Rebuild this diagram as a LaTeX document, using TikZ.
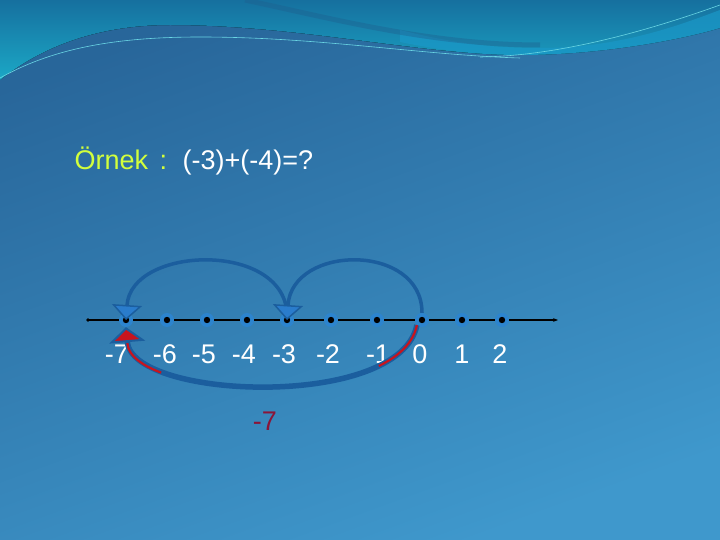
\documentclass[tikz,border=0pt]{standalone}
\usepackage{fontspec}
\setmainfont{Liberation Sans}
\usetikzlibrary{arrows.meta}
\definecolor{bgtop}{HTML}{28669A}
\definecolor{bgbot}{HTML}{3F98CC}
\definecolor{wavetop}{HTML}{16709F}
\definecolor{wavelow}{HTML}{1BA8C6}
\definecolor{waveband}{HTML}{1A98C8}
\definecolor{wavedark}{HTML}{1E5F8E}
\definecolor{waveline}{HTML}{6AD6E4}
\definecolor{ringblue}{HTML}{2C84CE}
\definecolor{arcblue}{HTML}{1B5E9E}
\definecolor{tipblue}{HTML}{2A7CCC}
\definecolor{jumpred}{HTML}{C8141E}
\definecolor{ansred}{HTML}{8A1538}
\definecolor{titlegreen}{HTML}{D2FF3C}

\begin{document}
\begin{tikzpicture}[x=1pt, y=-1pt,
  dot/.style={circle, fill=ringblue, minimum size=14pt, inner sep=0pt,
    path picture={\fill[black] (path picture bounding box.center) circle (3.2pt);}},
  num/.style={anchor=base, text=white, font=\fontsize{27}{32}\selectfont},
  hop/.style={arcblue, line width=3.5pt, -{Triangle[width=30pt, length=15pt, line width=1.5pt, fill=tipblue]}}
]
  % Background
  \shade[top color=bgtop, bottom color=bgbot, shading angle=20] (0,0) rectangle (720,540);
  \useasboundingbox (0,0) rectangle (720,540);

  % Top wave
  \fill[top color=wavetop, bottom color=wavelow] (0,0) -- (720,0) -- (720,28)
    .. controls (680,40) and (600,55) .. (520,55)
    .. controls (420,55) and (300,25) .. (170,25)
    .. controls (110,25) and (50,40) .. (0,80) -- cycle;
  \fill[waveband, opacity=.7] (400,30) .. controls (460,45) and (500,48) .. (540,48)
    .. controls (620,48) and (680,25) .. (720,10) -- (720,28)
    .. controls (680,40) and (600,55) .. (520,55)
    .. controls (470,55) and (430,48) .. (400,42) -- cycle;
  \draw[wavedark, line width=5pt, opacity=.4] (245,0) .. controls (330,18) and (430,45) .. (540,45);
  \draw[waveline, line width=.6pt] (0,78) .. controls (50,50) and (110,37) .. (200,37)
    .. controls (320,37) and (420,55) .. (520,58);
  \draw[waveline, line width=.6pt] (480,57) .. controls (560,56) and (650,30) .. (720,5);

  % Question
  \node[anchor=base west, text=titlegreen, font=\fontsize{27}{32}\selectfont] (title) at (71,170) {Örnek\kern4pt\ :};
  \node[anchor=base west, text=white, font=\fontsize{27}{32}\selectfont] (sum) at (179,170) {(-3)+(-4)=?};

  % Number line
  \coordinate (lineL) at (88,320);
  \coordinate (lineR) at (558,320);
  \draw[line width=1.4pt, -{Stealth[length=5pt]}] (lineL) -- (lineR);
  \fill (lineL) circle (1.8pt);

  \foreach \x/\lx/\lab/\nm in {
    126/117/-7/m7, 167/165/-6/m6, 207/204/-5/m5, 247/244/-4/m4, 287/284/-3/m3,
    331/328/-2/m2, 377/378/-1/m1, 422/420/0/z, 462/462/1/p1, 502/500/2/p2
  } {
    \node[dot] (d\nm) at (\x,320) {};
    \node[num] (l\nm) at (\lx,363) {\lab};
  }

  % Jumps
  \draw[hop] (dm3.north) .. controls +(-5,-72) and +(5,-74) .. (dm7.center);
  \draw[hop] (dz.north) .. controls +(0,-70) and +(5,-76) .. (dm3.center);

  % Result arrow
  \draw[arcblue, line width=5.5pt, -{Triangle[width=36pt, length=15pt, line width=2pt, fill=jumpred]}]
    (dz.south west) .. controls (400,410) and (132,400) .. (dm7.south);
  \draw[jumpred, line width=2.2pt, dash pattern=on 58pt off 222pt on 100pt, shorten >=16pt]
    (dz.south west) .. controls (400,410) and (132,400) .. (dm7.south);

  \node[anchor=base, text=ansred, font=\fontsize{27}{32}\selectfont] (answer) at (265,430) {-7};

\end{tikzpicture}
\end{document}
